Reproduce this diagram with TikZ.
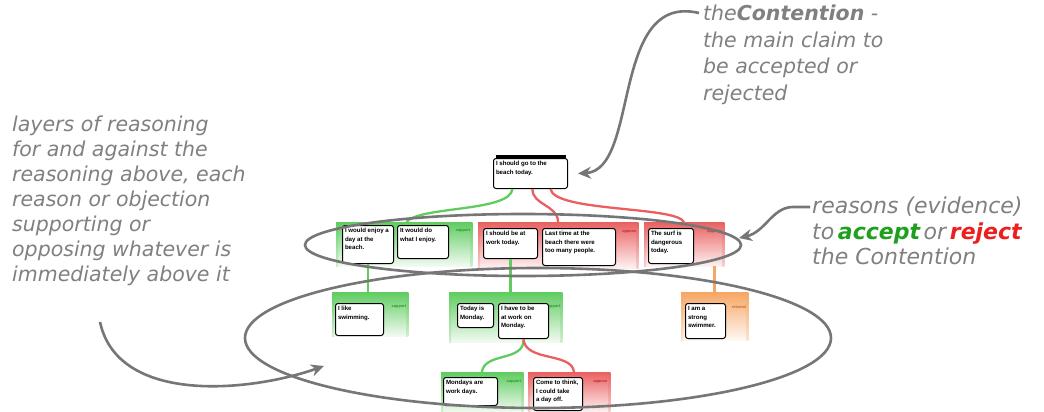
\documentclass[tikz,border=0pt]{standalone}
\usepackage{fontspec}
\setmainfont{DejaVu Sans}
\setsansfont{Liberation Sans}
\usetikzlibrary{calc,arrows.meta}
\definecolor{sup}{RGB}{96,204,96}
\definecolor{supd}{RGB}{40,150,40}
\definecolor{opp}{RGB}{234,96,96}
\definecolor{oppd}{RGB}{190,40,40}
\definecolor{reb}{RGB}{246,166,100}
\definecolor{rebd}{RGB}{200,110,40}
\definecolor{anno}{RGB}{128,128,128}
\definecolor{ellc}{RGB}{118,118,118}
\definecolor{accg}{RGB}{30,160,30}
\definecolor{rejr}{RGB}{236,30,30}
\newcommand{\bxt}[3]{\parbox[t][#2][t]{#1}{\raggedright #3}}
\tikzset{
  clm/.style={draw=black, line width=1pt, rounded corners=2.5pt, fill=white,
    anchor=north west, inner xsep=2.5pt, inner ysep=3pt,
    font=\sffamily\bfseries\fontsize{6.1}{8.5}\selectfont},
  grp/.style={anchor=north west, inner sep=0pt, draw=none, shade,
    top color=#1, bottom color=#1!8},
  glab/.style={anchor=north east, inner sep=0pt, font=\sffamily\bfseries\fontsize{3.9}{4.5}\selectfont},
  conn/.style={line width=2.3pt},
  ellipse line/.style={draw=ellc, line width=2.6pt},
  annarrow/.style={draw=ellc, line width=2.6pt, -{Stealth[length=13pt,width=12pt]}},
  anntext/.style={anchor=north west, inner sep=0pt, align=left, text=anno,
    font=\itshape\fontsize{20.5}{26.5}\selectfont}
}
\begin{document}
\begin{tikzpicture}[x=1pt,y=-1pt]
\useasboundingbox[fill=white] (0,0) rectangle (1044,412);

% ---------- groups (backgrounds) ----------
\node[grp=sup, minimum width=136pt, minimum height=44pt] (G1) at (336,222) {};
\node[grp=opp, minimum width=160pt, minimum height=46pt] (G2) at (478,222) {};
\node[grp=opp, minimum width=80pt, minimum height=44pt] (G3) at (644,222) {};
\node[grp=sup, minimum width=76pt, minimum height=44pt] (G4) at (332,292) {};
\node[grp=sup, minimum width=113pt, minimum height=50pt] (G5) at (449,292) {};
\node[grp=reb, minimum width=67pt, minimum height=48pt] (G6) at (681,292) {};
\node[grp=sup, minimum width=82pt, minimum height=40pt] (G7) at (441,372) {};
\node[grp=opp, minimum width=82pt, minimum height=40pt] (G8) at (528,372) {};

\foreach \g/\c in {G1/sup,G2/opp,G3/opp,G4/sup,G5/sup,G6/reb,G7/sup,G8/opp}{
  \shade[top color=\c, bottom color=\c!30] (\g.north west) rectangle ([xshift=2pt]\g.south west);
  \shade[top color=\c, bottom color=\c!30] ([xshift=-2pt]\g.north east) rectangle (\g.south east);
}

% group labels
\node[glab, text=supd] (L1) at ([xshift=-2pt,yshift=-7pt]G1.north east) {support};
\node[glab, text=oppd] (L2) at ([xshift=-2pt,yshift=-8pt]G2.north east) {oppose};
\node[glab, text=oppd] (L3) at ([xshift=-3pt,yshift=-8pt]G3.north east) {oppose};
\node[glab, text=supd] (L4) at ([xshift=-2pt,yshift=-13pt]G4.north east) {support};
\node[glab, text=supd] (L5) at ([xshift=-2pt,yshift=-13pt]G5.north east) {support};
\node[glab, text=rebd] (L6) at ([xshift=-2pt,yshift=-13pt]G6.north east) {rebuttal};
\node[glab, text=supd] (L7) at ([xshift=-2pt,yshift=-8pt]G7.north east) {support};
\node[glab, text=oppd] (L8) at ([xshift=-3pt,yshift=-8pt]G8.north east) {oppose};

% ---------- claims ----------
\node[clm] (T) at (493,158) {\bxt{69pt}{24pt}{I should go to the\\beach today.}};
\draw[line width=3pt, line cap=butt] ([xshift=2.5pt,yshift=1.2pt]T.north west) -- ([xshift=-2.5pt,yshift=1.2pt]T.north east);

\node[clm] (R1) at (342,225) {\bxt{46pt}{32pt}{I would enjoy a\\day at the\\beach.}};
\node[clm] (R2) at (397,225) {\bxt{46pt}{27pt}{It would do\\what I enjoy.}};
\node[clm] (O1) at (483,228) {\bxt{49pt}{24pt}{I should be at\\work today.}};
\node[clm] (O2) at (542,228) {\bxt{68pt}{31pt}{Last time at the\\beach there were\\too many people.}};
\node[clm] (O3) at (648,228) {\bxt{40pt}{29pt}{The surf is\\dangerous\\today.}};
\node[clm] (S1) at (335,303) {\bxt{43pt}{26pt}{I like\\swimming.}};
\node[clm] (S2) at (457,303) {\bxt{31pt}{18pt}{Today is\\Monday.}};
\node[clm] (S3) at (498,303) {\bxt{45pt}{29pt}{I have to be\\at work on\\Monday.}};
\node[clm] (S6) at (685,303) {\bxt{35pt}{29pt}{I am a\\strong\\swimmer.}};
\node[clm] (S7) at (443,377) {\bxt{49pt}{22pt}{Mondays are\\work days.}};
\node[clm] (S8) at (533,377) {\bxt{44pt}{27pt}{Come to think,\\I could take\\a day off.}};

% ---------- connectors ----------
\draw[conn, sup] ([xshift=-18pt]T.south) .. controls (510,212) and (420,206) .. ([xshift=-66pt]G1.north east);
\draw[conn, opp] ([xshift=2pt]T.south) .. controls (532,205) and (558,205) .. ([xshift=80pt]G2.north west);
\draw[conn, opp] ([xshift=20pt]T.south) .. controls (554,212) and (676,206) .. ([xshift=40pt]G3.north west);
\draw[conn, sup] (R1.south) -- (R1.south |- G4.north);
\draw[conn, sup] (O1.south) -- (O1.south |- G5.north);
\draw[conn, reb] ([xshift=-10pt]G3.south east) -- ([xshift=-10pt]G3.south east |- G6.north);
\draw[conn, sup] (S3.south) .. controls (525,362) and (484,352) .. ([xshift=41pt]G7.north west);
\draw[conn, opp] (S3.south) .. controls (525,362) and (572,352) .. ([xshift=46pt]G8.north west);

% ---------- layer ellipses ----------
\draw[ellipse line] (523,245) ellipse [x radius=218pt, y radius=31pt];
\draw[ellipse line] (538,338) ellipse [x radius=293pt, y radius=70pt];

% ---------- annotations ----------
\node[anntext] (A1) at (703,5) {the\textbf{Contention} -\\the main claim to\\be accepted or\\rejected};
\node[anntext, font=\itshape\fontsize{20.5}{25}\selectfont] (A2) at (12,116) {layers of reasoning\\for and against the\\reasoning above, each\\reason or objection\\supporting or\\opposing whatever is\\immediately above it};
\node[anntext, font=\itshape\fontsize{22}{25.5}\selectfont] (A3) at (812,197) {reasons (evidence)\\to\,\textcolor{accg}{\textbf{accept}}\,or\,\textcolor{rejr}{\textbf{reject}}\\the Contention};

\coordinate (a1s) at (699,13);
\coordinate (a2s) at (100,322);
\coordinate (a3s) at (810,207);
\draw[annarrow] (a1s) .. controls (610,-8) and (640,170) .. ([xshift=10pt]T.east);
\draw[annarrow] (a2s) .. controls (118,405) and (250,392) .. (324,366);
\draw[annarrow] (a3s) -- (792,207) .. controls (772,208) and (765,232) .. (739,238);
\end{tikzpicture}
\end{document}
